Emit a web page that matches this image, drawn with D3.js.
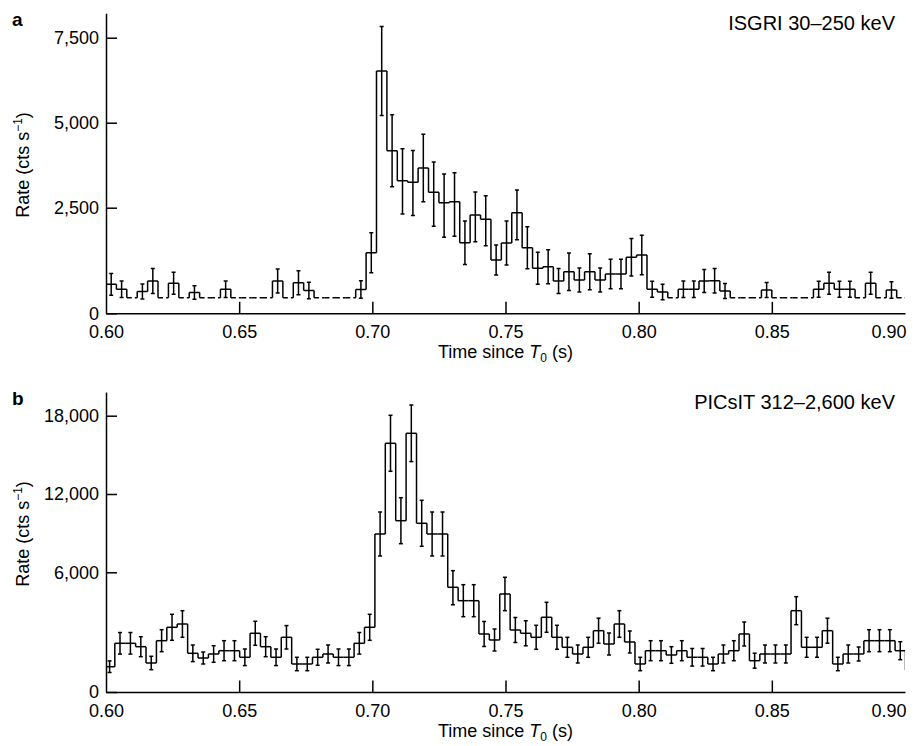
<!DOCTYPE html>
<html>
<head>
<meta charset="utf-8">
<script src="https://cdn.jsdelivr.net/npm/d3@7"></script>
<style>
  body { margin: 0; background: #fff; }
  svg { font-family: "Liberation Sans", Arial, sans-serif; }
  .axis path, .axis line { stroke: #000; stroke-width: 1.5; }
  .axis text { font-family: "Liberation Sans", Arial, sans-serif; font-size: 18px; fill: #000; }
  .hist line { stroke: #000; stroke-width: 1.5; }
  .err line { stroke: #000; stroke-width: 1.5; }
</style>
</head>
<body>
<svg id="chart" width="916" height="746"></svg>
<script>
// bins are 1/256 s wide
var binWidth = 1 / 256;
var timeTicks = [0.60, 0.65, 0.70, 0.75, 0.80, 0.85, 0.90];

// panel a - ISGRI
var isgriStart = 0.6;
var isgriRate = [686, 568, 370, 516, 765, 370, 710, 370, 492, 370,
  370, 568, 370, 370, 370, 370, 765, 370, 724, 540,
  370, 370, 370, 370, 563, 1434, 6520, 4176, 3294, 3247,
  3668, 2953, 2647, 2676, 1671, 2327, 2225, 1262, 1664, 2381,
  1553, 1065, 1103, 765, 985, 788, 985, 788, 930, 930,
  1326, 1380, 568, 504, 370, 568, 568, 765, 772, 528,
  370, 370, 370, 552, 370, 370, 370, 370, 568, 710,
  568, 568, 370, 710, 370, 552, 370];
var isgriErr = [256, 196, 0, 178, 296, 0, 260, 0, 159, 0,
  0, 196, 0, 0, 0, 0, 284, 0, 284, 194,
  0, 0, 0, 0, 206, 473, 1309, 1059, 941, 932,
  991, 891, 844, 853, 516, 632, 623, 355, 521, 639,
  497, 379, 402, 296, 443, 284, 426, 284, 348, 348,
  443, 466, 189, 185, 0, 196, 196, 272, 291, 178,
  0, 0, 0, 178, 0, 0, 0, 0, 189, 260,
  189, 189, 0, 260, 0, 196, 0];
var isgriTicks = [0, 2500, 5000, 7500];

// panel b - PICsIT
var picsitStart = 0.5994;
var picsitRate = [1268, 2441, 2441, 2271, 1454, 2572, 3243, 3409, 1940, 1704,
  1905, 2070, 2070, 1740, 2943, 2271, 1740, 2742, 1404, 1404,
  1740, 1905, 1740, 1740, 2441, 3243, 8935, 15885, 9954, 16652,
  9755, 8935, 8935, 5249, 4577, 4577, 2908, 2607, 4913, 3108,
  2943, 2742, 3745, 2742, 2241, 1905, 2241, 3073, 2406, 3409,
  2507, 1404, 2070, 2070, 1855, 2070, 1740, 1740, 1404, 1905,
  2070, 2908, 1569, 1905, 1905, 1905, 4076, 2241, 2241, 3073,
  1404, 1905, 1905, 2572, 2572, 2572, 2070, 1103];
var picsitErr = [291, 541, 541, 501, 336, 551, 652, 667, 416, 301,
  416, 501, 501, 416, 602, 501, 416, 587, 336, 336,
  401, 451, 416, 416, 541, 652, 1686, 2146, 1762, 2169,
  1762, 1686, 1686, 877, 802, 802, 627, 551, 837, 627,
  627, 602, 752, 602, 501, 451, 501, 627, 551, 667,
  551, 336, 501, 501, 416, 501, 441, 441, 336, 451,
  501, 602, 376, 451, 451, 451, 702, 501, 501, 627,
  336, 451, 351, 551, 551, 551, 451, 0];
var picsitTicks = [0, 6000, 12000, 18000];

var svg = d3.select("#chart");
var left = 106, width = 799, height = 300;

var panels = [
  { letter: "a", title: "ISGRI 30\u2013250 keV", start: isgriStart, rate: isgriRate, err: isgriErr,
    ticks: isgriTicks, top: 13.3, breakPx: 105.6, stepPx: 85, labelY: 165, dashFloor: true },
  { letter: "b", title: "PICsIT 312\u20132,600 keV", start: picsitStart, rate: picsitRate, err: picsitErr,
    ticks: picsitTicks, top: 392, breakPx: 119.7, stepPx: 78.3, labelY: 534, dashFloor: false }
];

var x = d3.scaleLinear().domain([0.6, 0.9]).range([0, width]);

panels.forEach(function (p, pi) {
  var brk = p.ticks[1];
  var yMax = brk + (height - p.breakPx) * brk / p.stepPx;
  // bottom stretch of the axis is drawn wider than the rest, like the original
  var y = d3.scaleLinear().domain([0, brk, yMax]).range([height, height - p.breakPx, 0]);

  var g = svg.append("g").attr("transform", "translate(" + left + "," + p.top + ")");

  g.append("clipPath").attr("id", "clip" + pi)
    .append("rect").attr("x", 0).attr("y", -2).attr("width", width).attr("height", height + 2);

  var bins = p.rate.map(function (v, i) {
    return { x0: p.start + i * binWidth, x1: p.start + (i + 1) * binWidth, v: v, e: p.err[i] };
  });

  var plot = g.append("g").attr("clip-path", "url(#clip" + pi + ")");

  var hist = plot.append("g").attr("class", "hist");
  hist.selectAll("line.top").data(bins).join("line")
    .attr("class", "top")
    .attr("x1", function (d) { return x(d.x0); })
    .attr("x2", function (d) { return x(d.x1); })
    .attr("y1", function (d) { return y(d.v); })
    .attr("y2", function (d) { return y(d.v); })
    .attr("stroke-dasharray", function (d) { return (p.dashFloor && d.e === 0) ? "5,3" : null; });

  hist.selectAll("line.step").data(bins.slice(0, -1)).join("line")
    .attr("class", "step")
    .attr("x1", function (d) { return x(d.x1); })
    .attr("x2", function (d) { return x(d.x1); })
    .attr("y1", function (d) { return y(d.v); })
    .attr("y2", function (d, i) { return y(bins[i + 1].v); });

  var withErr = bins.filter(function (d) { return d.e > 0; });
  var err = plot.append("g").attr("class", "err");
  var mid = function (d) { return x((d.x0 + d.x1) / 2); };
  err.selectAll("line.bar").data(withErr).join("line")
    .attr("class", "bar")
    .attr("x1", mid).attr("x2", mid)
    .attr("y1", function (d) { return y(d.v - d.e); })
    .attr("y2", function (d) { return y(d.v + d.e); });
  [-1, 1].forEach(function (s) {
    err.selectAll("line.cap" + (s + 1)).data(withErr).join("line")
      .attr("class", "cap" + (s + 1))
      .attr("x1", function (d) { return mid(d) - 2; })
      .attr("x2", function (d) { return mid(d) + 2; })
      .attr("y1", function (d) { return y(d.v + s * d.e); })
      .attr("y2", function (d) { return y(d.v + s * d.e); });
  });

  // axes
  var xAxis = g.append("g").attr("class", "axis")
    .attr("transform", "translate(0," + height + ")")
    .call(d3.axisBottom(x).tickValues(timeTicks).tickSizeInner(-11.5).tickSizeOuter(0)
      .tickPadding(12).tickFormat(d3.format(".2f")));
  xAxis.selectAll(".tick line").filter(function (d, i) { return i === 0 || i === timeTicks.length - 1; }).remove();
  // last label sits flush with the axis end
  xAxis.selectAll(".tick text").filter(function (d, i) { return i === timeTicks.length - 1; })
    .attr("text-anchor", "end").attr("dx", 1);

  g.append("g").attr("class", "axis")
    .call(d3.axisLeft(y).tickValues(p.ticks).tickSizeInner(-11).tickSizeOuter(0)
      .tickPadding(7).tickFormat(d3.format(",")));

  // titles
  var xt = g.append("text")
    .attr("x", width / 2).attr("y", height + 45)
    .attr("text-anchor", "middle").attr("font-size", 18);
  xt.append("tspan").text("Time since ");
  xt.append("tspan").attr("font-style", "italic").text("T");
  xt.append("tspan").attr("font-size", 12).attr("dy", 4).text("0");
  xt.append("tspan").attr("dy", -4).text(" (s)");

  var yt = svg.append("text")
    .attr("transform", "translate(29," + p.labelY + ") rotate(-90)")
    .attr("text-anchor", "middle").attr("font-size", 18);
  yt.append("tspan").text("Rate (cts s");
  yt.append("tspan").attr("font-size", 12).attr("dy", -7).text("\u22121");
  yt.append("tspan").attr("dy", 7).text(")");

  g.append("text")
    .attr("x", 789).attr("y", 17)
    .attr("text-anchor", "end").attr("font-size", 20)
    .text(p.title);

  svg.append("text")
    .attr("x", 12).attr("y", p.top + 12.5)
    .attr("font-size", 19).attr("font-weight", "bold")
    .text(p.letter);
});
</script>
</body>
</html>
